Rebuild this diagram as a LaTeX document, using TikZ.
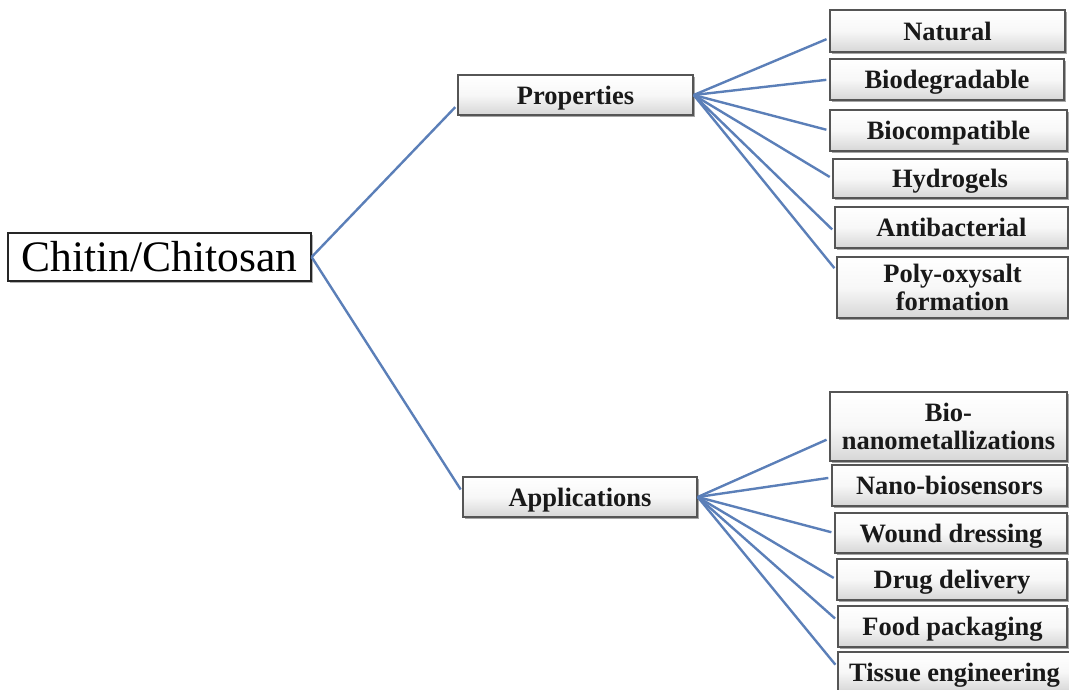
\documentclass[tikz,border=0pt]{standalone}
\usepackage{fontspec}
\setmainfont{Liberation Serif}
\usetikzlibrary{shadows}
\definecolor{linkblue}{HTML}{5B7FB8}
\definecolor{boxedge}{HTML}{555555}
\tikzset{
  box/.style={draw=boxedge, line width=1.4pt, top color=white, bottom color=black!16,
    middle color=black!3, shading angle=0, inner sep=0pt, align=center,
    font=\fontsize{26.5}{27.5}\selectfont\bfseries, text=black!90, text depth=0pt,
    drop shadow={shadow xshift=1.6pt, shadow yshift=-1.8pt, opacity=0.35, fill=black}},
  rootbox/.style={draw=black!85, line width=1.3pt, fill=white, inner sep=0pt,
    font=\fontsize{43.5}{45}\selectfont, text=black,
    drop shadow={shadow xshift=1.5pt, shadow yshift=-1.5pt, opacity=0.3, fill=black}},
  link/.style={draw=linkblue, line width=2.4pt, shorten >=3pt}
}
\begin{document}
\begin{tikzpicture}[x=1pt,y=-1pt]
\useasboundingbox (0,0) rectangle (1069,689);
\clip (0,0) rectangle (1069,689);
\node[rootbox, minimum width=303pt, minimum height=48pt] (chitin) at (159.5,257) {Chitin/Chitosan};
\node[box, minimum width=235pt, minimum height=40pt] (prop) at (575.5,95) {Properties};
\node[box, minimum width=234pt, minimum height=40pt] (app) at (580,497) {Applications};
% properties leaves
\node[box, minimum width=235pt, minimum height=42pt] (nat) at (947.5,31) {Natural};
\node[box, minimum width=234pt, minimum height=41pt] (biodeg) at (947,79.5) {Biodegradable};
\node[box, minimum width=237pt, minimum height=41pt] (biocomp) at (948.5,130.5) {Biocompatible};
\node[box, minimum width=234pt, minimum height=39pt] (hydro) at (950,178.5) {Hydrogels};
\node[box, minimum width=233pt, minimum height=41pt] (antibac) at (951.5,227.5) {Antibacterial};
\node[box, minimum width=231pt, minimum height=61pt] (poly) at (952.5,287.5) {Poly-oxysalt\\formation};
% application leaves
\node[box, minimum width=237pt, minimum height=69pt] (bionano) at (948.5,426.5) {Bio-\\nanometallizations};
\node[box, minimum width=235pt, minimum height=41pt] (nanobio) at (949.5,485.5) {Nano-biosensors};
\node[box, minimum width=232pt, minimum height=40pt] (wound) at (951,533) {Wound dressing};
\node[box, minimum width=230pt, minimum height=41pt] (drug) at (952,579.5) {Drug delivery};
\node[box, minimum width=229pt, minimum height=41pt] (food) at (952.5,626.5) {Food packaging};
\node[box, minimum width=233pt, minimum height=40pt] (tissue) at (954.5,672) {Tissue engineering};
% connectors
\draw[link] (chitin.east) -- ([yshift=-10pt]prop.west);
\draw[link] (chitin.east) -- ([yshift=5pt]app.west);
\draw[link] (prop.east) -- ([yshift=-7pt]nat.west);
\draw[link] (prop.east) -- (biodeg.west);
\draw[link] (prop.east) -- (biocomp.west);
\draw[link] (prop.east) -- (hydro.west);
\draw[link] (prop.east) -- ([yshift=-4pt]antibac.west);
\draw[link] (prop.east) -- ([yshift=17pt]poly.west);
\draw[link] (app.east) -- ([yshift=-12pt]bionano.west);
\draw[link] (app.east) -- ([yshift=8pt]nanobio.west);
\draw[link] (app.east) -- (wound.west);
\draw[link] (app.east) -- (drug.west);
\draw[link] (app.east) -- ([yshift=6pt]food.west);
\draw[link] (app.east) -- ([yshift=5pt]tissue.west);
\end{tikzpicture}
\end{document}
